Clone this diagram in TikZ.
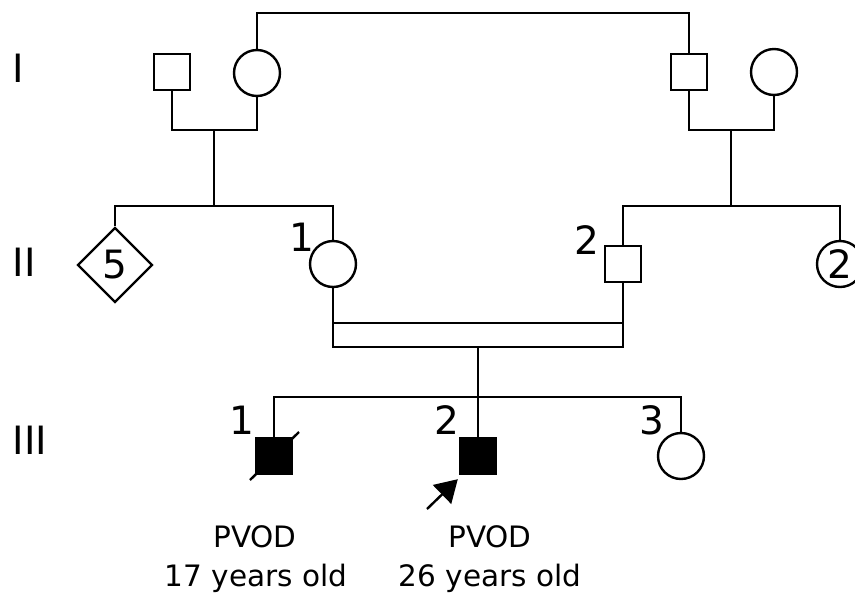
\documentclass[tikz,border=0pt]{standalone}
\usepackage{fontspec}
\setmainfont{DejaVu Sans}
\usetikzlibrary{shapes.geometric,arrows.meta}
\begin{document}
\begin{tikzpicture}[x=1pt,y=-1pt,line width=2.4pt,
  male/.style={draw,rectangle,minimum size=36pt,inner sep=0pt},
  female/.style={draw,circle,minimum size=46pt,inner sep=0pt},
  affected/.style={fill=black},
  multi/.style={draw,diamond,minimum size=75pt,inner sep=0pt},
  lbl/.style={font=\fontsize{39}{42}\selectfont,inner sep=0pt},
  txt/.style={font=\fontsize{29.5}{34}\selectfont,inner sep=0pt,align=center}]
\useasboundingbox (0,0) rectangle (855,598);
% generation labels
\node[lbl] (gI) at (18,68) {I};
\node[lbl] (gII) at (24,262) {II};
\node[lbl] (gIII) at (30,440) {III};
% generation I
\node[male] (i1) at (172,72) {};
\node[female] (i2) at (257,73) {};
\node[male] (i3) at (689,72) {};
\node[female] (i4) at (774,72) {};
\coordinate (top) at (0,13);
\coordinate (c1) at (214,130);
\coordinate (c2) at (731,130);
\coordinate (s1) at (214,206);
\coordinate (s2) at (731,206);
\draw (i2.north) -- (i2.north |- top) -- (i3.north |- top) -- (i3.north);
\draw (i1.south) -- (i1.south |- c1) -- (i2.south |- c1) -- (i2.south);
\draw (i3.south) -- (i3.south |- c2) -- (i4.south |- c2) -- (i4.south);
\draw (c1) -- (s1);
\draw (c2) -- (s2);
% generation II
\node[multi] (ii0) at (115,265) {\fontsize{39}{42}\selectfont 5};
\node[female] (ii1) at (333,264) {};
\node[male] (ii2) at (623,264) {};
\node[female] (ii3) at (840,264) {\fontsize{39}{42}\selectfont 2};
\node[lbl] (l21) at (302,237) {1};
\node[lbl] (l22) at (587,240) {2};
\draw (ii0.north) -- (ii0.north |- s1) -- (ii1.north |- s1) -- (ii1.north);
\draw (ii2.north) -- (ii2.north |- s2) -- (ii3.north |- s2) -- (ii3.north);
\coordinate (m1) at (0,323);
\coordinate (m2) at (478,347);
\coordinate (s3) at (478,397);
\draw (ii1.south) -- (ii1.south |- m2) -- (ii2.south |- m2) -- (ii2.south);
\draw (ii1.south |- m1) -- (ii2.south |- m1);
% generation III
\node[male,affected] (iii1) at (274,456) {};
\node[male,affected] (iii2) at (478,456) {};
\node[female] (iii3) at (681,456) {};
\node[lbl] (l31) at (242,420) {1};
\node[lbl] (l32) at (447,420) {2};
\node[lbl] (l33) at (652,420) {3};
\draw (m2) -- (iii2.north);
\draw (iii1.north) -- (iii1.north |- s3) -- (iii3.north |- s3) -- (iii3.north);
\coordinate (d1) at (250,480);
\coordinate (d2) at (299,432);
\draw (d1) -- (d2);
\coordinate (arr) at (427,509);
\draw[-{Triangle[length=22pt,width=26pt]}] (arr) -- ([shift={(-1,4)}]iii2.south west);
% captions
\node[txt] (p1) at (255,537) {PVOD};
\node[txt] (p2) at (490,537) {PVOD};
\node[txt] (y1) at (256,578) {17 years old};
\node[txt] (y2) at (490,578) {26 years old};
\end{tikzpicture}
\end{document}
